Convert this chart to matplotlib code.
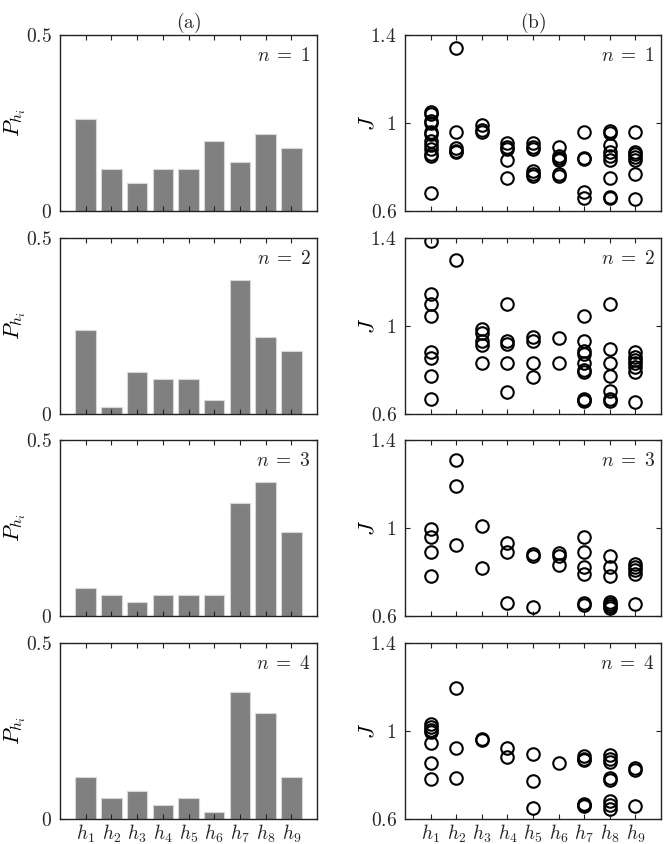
import matplotlib
matplotlib.use("Agg")
import matplotlib.pyplot as plt
from matplotlib.ticker import FuncFormatter

plt.rcParams['mathtext.fontset'] = 'cm'
plt.rcParams['font.family'] = ['DejaVu Serif']

categories = [r'$h_{%d}$' % i for i in range(1, 10)]

P1 = [0.26, 0.12, 0.08, 0.12, 0.12, 0.20, 0.14, 0.22, 0.18]
P2 = [0.24, 0.02, 0.12, 0.10, 0.10, 0.04, 0.38, 0.22, 0.18]
P3 = [0.08, 0.06, 0.04, 0.06, 0.06, 0.06, 0.32, 0.38, 0.24]
P4 = [0.12, 0.06, 0.08, 0.04, 0.06, 0.02, 0.36, 0.30, 0.12]

J1 = [
    [1.05, 1.04, 1.01, 1.0, 0.96, 0.95, 0.92, 0.9, 0.88, 0.86, 0.85, 0.68],
    [1.34, 0.96, 0.885, 0.875, 0.87],
    [0.99, 0.97, 0.96],
    [0.91, 0.89, 0.88, 0.83, 0.75],
    [0.91, 0.89, 0.88, 0.78, 0.77, 0.76],
    [0.89, 0.85, 0.84, 0.83, 0.77, 0.76],
    [0.96, 0.84, 0.835, 0.685, 0.66],
    [0.965, 0.955, 0.9, 0.87, 0.85, 0.83, 0.75, 0.665, 0.66],
    [0.96, 0.87, 0.86, 0.845, 0.83, 0.77, 0.655],
]
J2 = [
    [1.385, 1.145, 1.1, 1.045, 0.88, 0.855, 0.775, 0.67],
    [1.3],
    [0.985, 0.97, 0.93, 0.915, 0.83],
    [1.1, 0.93, 0.92, 0.83, 0.7],
    [0.95, 0.93, 0.83, 0.77],
    [0.945, 0.83],
    [1.045, 0.93, 0.885, 0.875, 0.83, 0.8, 0.79, 0.67, 0.665, 0.66],
    [1.1, 0.895, 0.83, 0.775, 0.705, 0.67, 0.66],
    [0.88, 0.86, 0.845, 0.83, 0.815, 0.79, 0.655],
]
J3 = [
    [0.995, 0.96, 0.89, 0.78],
    [1.31, 1.19, 0.925],
    [1.01, 0.82],
    [0.93, 0.89, 0.66],
    [0.88, 0.875, 0.64],
    [0.885, 0.875, 0.83],
    [0.96, 0.89, 0.825, 0.79, 0.66, 0.65],
    [0.875, 0.825, 0.78, 0.665, 0.655, 0.645, 0.635],
    [0.835, 0.825, 0.81, 0.79, 0.655],
]
J4 = [
    [1.03, 1.02, 1.005, 0.995, 0.945, 0.855, 0.78],
    [1.195, 0.925, 0.785],
    [0.965, 0.96],
    [0.925, 0.88],
    [0.895, 0.775, 0.65],
    [0.855],
    [0.885, 0.875, 0.87, 0.67, 0.665, 0.657],
    [0.89, 0.875, 0.86, 0.785, 0.778, 0.68, 0.665, 0.645],
    [0.83, 0.823, 0.657],
]

P_all = [P1, P2, P3, P4]
J_all = [J1, J2, J3, J4]
n_labels = [r'$n \;=\; 1$', r'$n \;=\; 2$', r'$n \;=\; 3$', r'$n \;=\; 4$']

W, H = 664, 844
fig = plt.figure(figsize=(W / 100, H / 100), dpi=100)

tops = [35, 238, 440, 643]
ah = 176
xs = list(range(1, 10))

def fmt(v, pos):
    return r'$%g$' % v

def style(ax):
    ax.tick_params(direction='in', top=True, right=True, length=3.5, width=0.8,
                   labelsize=14, color='#222222', labelcolor='#262626')
    ax.tick_params(axis='y', pad=6)
    ax.tick_params(axis='x', pad=3)
    for s in ax.spines.values():
        s.set_linewidth(1.0)
        s.set_color('#222222')
    ax.yaxis.set_major_formatter(FuncFormatter(fmt))

for r in range(4):
    y0 = (H - tops[r] - ah) / H
    axl = fig.add_axes([60 / W, y0, 257 / W, ah / H])
    axr = fig.add_axes([405 / W, y0, 256 / W, ah / H])

    axl.bar(xs, P_all[r], width=0.8, color='#808080', edgecolor='#d8d8d8', linewidth=0.8)
    axl.set_xlim(0, 10)
    axl.set_ylim(0, 0.5)
    axl.set_yticks([0, 0.5])
    axl.set_xticks(xs)
    style(axl)
    axl.set_ylabel(r'$P_{h_i}$', fontsize=16)
    axl.yaxis.set_label_coords(-0.125, 0.5)
    axl.text(0.975, 0.93, n_labels[r], transform=axl.transAxes, ha='right', va='top',
             fontsize=14, color='#262626')

    for i, vals in enumerate(J_all[r]):
        axr.plot([xs[i]] * len(vals), vals, linestyle='none', marker='o', markersize=9,
                 markerfacecolor='none', markeredgecolor='black', markeredgewidth=1.5)
    axr.set_xlim(0, 10)
    axr.set_ylim(0.6, 1.4)
    axr.set_yticks([0.6, 1.0, 1.4])
    axr.set_xticks(xs)
    style(axr)
    axr.set_ylabel(r'$J$', fontsize=16)
    axr.yaxis.set_label_coords(-0.105, 0.5)
    axr.text(0.975, 0.93, n_labels[r], transform=axr.transAxes, ha='right', va='top',
             fontsize=14, color='#262626')

    if r == 3:
        axl.set_xticklabels(categories, fontsize=14)
        axr.set_xticklabels(categories, fontsize=14)
    else:
        axl.set_xticklabels([])
        axr.set_xticklabels([])

    if r == 0:
        axl.set_title(r'$\mathrm{(a)}$', fontsize=14, pad=0, color='#262626')
        axr.set_title(r'$\mathrm{(b)}$', fontsize=14, pad=0, color='#262626')

fig.savefig('out.png', dpi=100)
